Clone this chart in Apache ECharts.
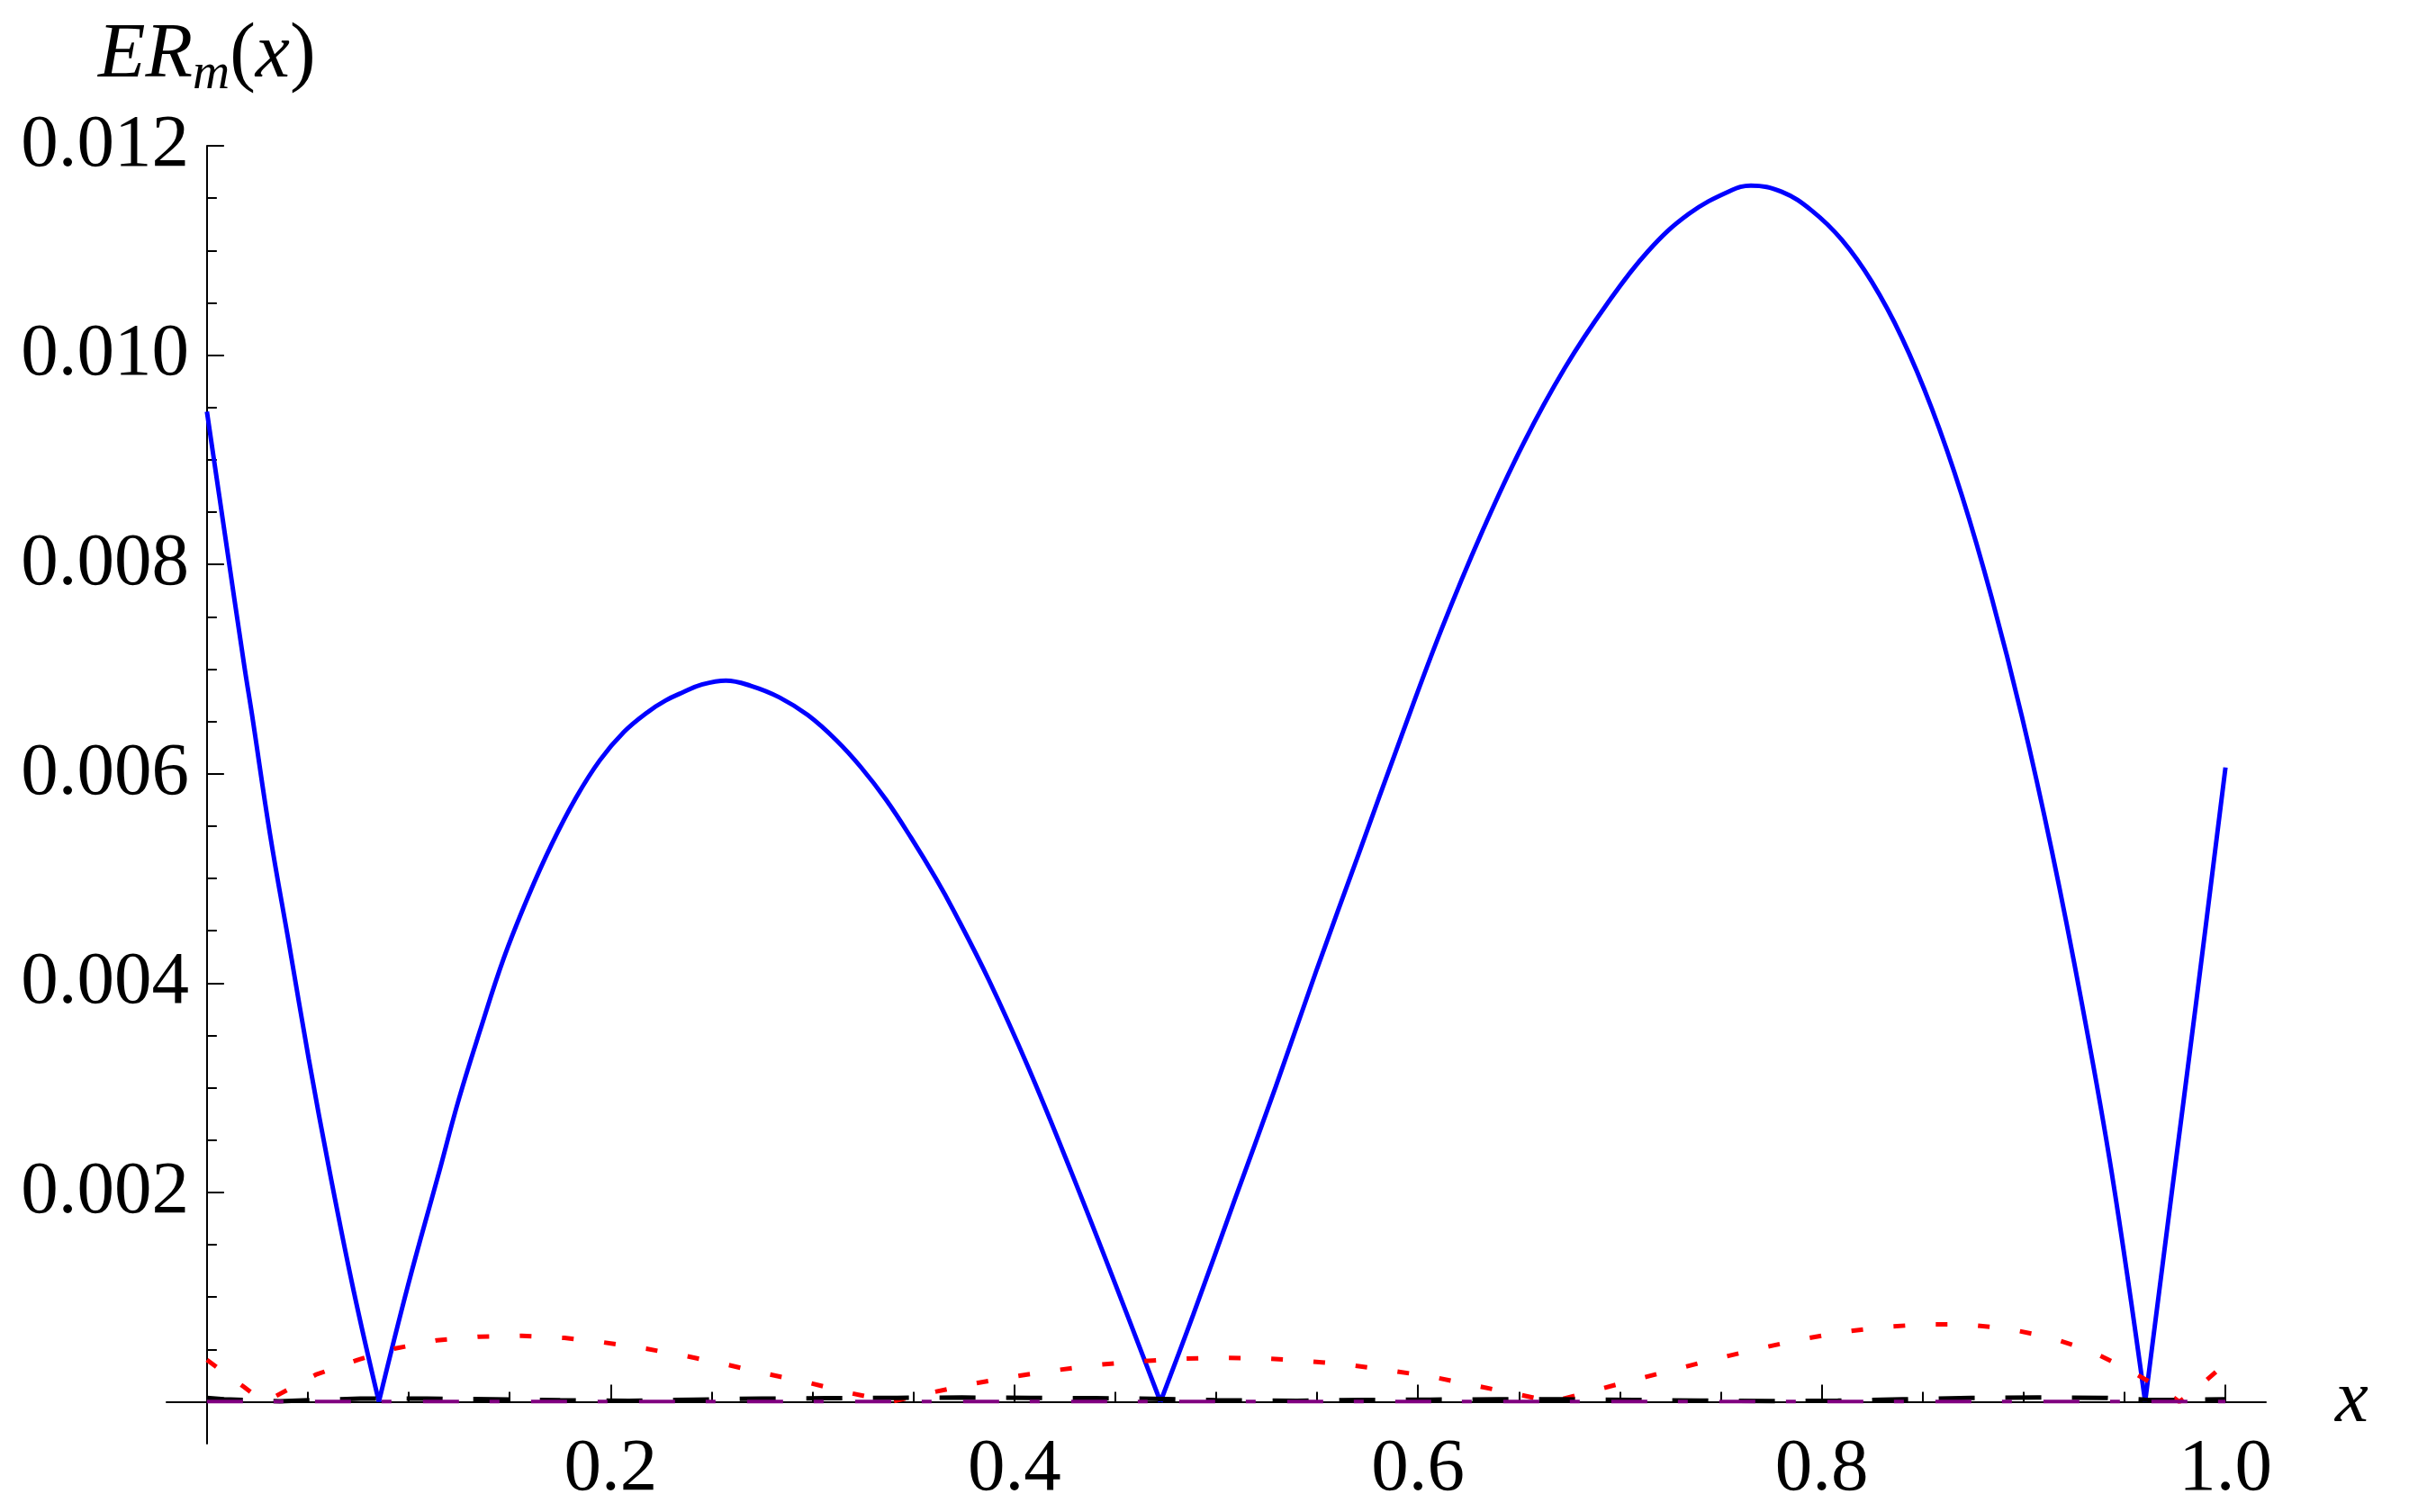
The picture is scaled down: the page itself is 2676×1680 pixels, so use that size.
<!DOCTYPE html>
<html>
<head>
<meta charset="utf-8">
<title>ER_m(x)</title>
<script src="https://cdn.jsdelivr.net/npm/echarts@6/dist/echarts.min.js"></script>
<style>
    html, body { margin: 0; padding: 0; background: #fff; }
    #chart { width: 2676px; height: 1680px; }
</style>
</head>
<body>
<div id="chart"></div>
<script>
    // values
    const blueX = [0, 0.0089, 0.0186, 0.0223, 0.0312, 0.0409, 0.0505, 0.0609, 0.0728, 0.0852,
        0.0996, 0.1144, 0.1248, 0.1352, 0.1471, 0.159, 0.1709, 0.1828, 0.1947, 0.2066, 0.2184, 0.2272,
        0.236, 0.2448, 0.2571, 0.2695, 0.2836, 0.2977, 0.3118, 0.3241, 0.3365, 0.3488, 0.3611, 0.37,
        0.3876, 0.407, 0.4281, 0.4493, 0.4724,
        0.4886, 0.509, 0.5295, 0.55, 0.5705, 0.591, 0.6114, 0.6319, 0.6523, 0.6728, 0.6933, 0.7138,
        0.7342, 0.7547, 0.7649, 0.7802, 0.7951, 0.81, 0.8248, 0.8396, 0.8545, 0.8694, 0.8842, 0.8991,
        0.914, 0.9288, 0.9437, 0.9602,
        0.9734, 0.9853, 1.0];
    const blueY = [0.00946, 0.00829, 0.00702, 0.00657, 0.00543, 0.00435, 0.00327, 0.00219, 0.00105, 0,
        0.00111, 0.00215, 0.00289, 0.00354, 0.00424, 0.00482, 0.00533, 0.00577, 0.00613, 0.0064, 0.00659, 0.0067,
        0.00678, 0.00685, 0.00689, 0.00684, 0.00673, 0.00656, 0.00632, 0.00606, 0.00575, 0.00539, 0.005, 0.00469,
        0.00402, 0.00319, 0.0022, 0.00116, 0,
        0.00083, 0.00192, 0.00301, 0.00414, 0.00523, 0.00632, 0.00737, 0.00832, 0.00916, 0.00988, 0.01048, 0.01099,
        0.01135, 0.01157, 0.01162, 0.01156, 0.01138, 0.0111, 0.0107, 0.01017, 0.00949, 0.00866, 0.00768, 0.00655,
        0.00526, 0.00381, 0.00218, 0,
        0.002, 0.00379, 0.00606];

    const redX = [0, 0.0182, 0.028, 0.0344, 0.0539, 0.0749, 0.0928, 0.1139, 0.1349, 0.156, 0.1771, 0.1965,
        0.2176, 0.237, 0.2581, 0.2775, 0.2986, 0.318, 0.3391, 0.3586, 0.3797, 0.4007, 0.4202, 0.4412, 0.4623,
        0.4818, 0.503, 0.5246, 0.5444, 0.5658, 0.5866, 0.607, 0.6268, 0.6473, 0.6664, 0.6878, 0.7076, 0.7274,
        0.7482, 0.768, 0.7884, 0.8089, 0.8297, 0.8504, 0.8709, 0.8917, 0.9121, 0.9319, 0.95, 0.9682, 0.9771,
        0.9853, 1.0];
    const redY = [0.0004, 0.000143, 0, 0.000057, 0.000258, 0.000401, 0.000507, 0.000587, 0.000622, 0.00063,
        0.00061, 0.000567, 0.000507, 0.000438, 0.000352, 0.000266, 0.00018, 0.000086, 0, 0.000086, 0.000172,
        0.000244, 0.0003, 0.000352, 0.000387, 0.00041, 0.00042, 0.000413, 0.00039, 0.000352, 0.000298, 0.000238,
        0.00016, 0.00008, 0, 0.000109, 0.000212, 0.000309, 0.000413, 0.000504, 0.00059, 0.000662, 0.000713,
        0.000739, 0.000739, 0.000699, 0.000619, 0.000496, 0.000327, 0.000126, 0, 0.000117, 0.000367];

    const blackX = [0, 0.0085, 0.036, 0.076, 0.109, 0.141, 0.175, 0.209, 0.241, 0.275, 0.307, 0.342, 0.374,
        0.408, 0.44, 0.475, 0.5, 0.54, 0.573, 0.606, 0.64, 0.673, 0.707, 0.74, 0.775, 0.808, 0.84, 0.874,
        0.907, 0.94, 0.96, 0.973, 1.0];
    const blackY = [0.000037, 0.000023, 0.000005, 0.00003, 0.00003, 0.000023, 0.000014, 0.000009, 0.00002,
        0.00003, 0.000034, 0.000037, 0.00004, 0.000037, 0.000034, 0.000026, 0.000014, 0.000009, 0.000017,
        0.00002, 0.000023, 0.000023, 0.000017, 0.000011, 0.000006, 0.00001, 0.000023, 0.000037, 0.00004,
        0.000037, 0.00002, 0.000017, 0.000023];

    const purpleX = [0, 0.25, 0.5, 0.75, 1.0];
    const purpleY = [0.000003, 0.000002, 0.000002, 0.000002, 0.000003];

    const xMajor = [0.2, 0.4, 0.6, 0.8, 1.0];
    const xMinor = [0.05, 0.1, 0.15, 0.25, 0.3, 0.35, 0.45, 0.5, 0.55, 0.65, 0.7, 0.75, 0.85, 0.9, 0.95];
    const yMajor = [0.002, 0.004, 0.006, 0.008, 0.010, 0.012];
    const yMinor = [0.0005, 0.001, 0.0015, 0.0025, 0.003, 0.0035, 0.0045, 0.005, 0.0055,
        0.0065, 0.007, 0.0075, 0.0085, 0.009, 0.0095, 0.0105, 0.011, 0.0115];

    function pairs(xs, ys) {
        return xs.map((x, i) => [x, ys[i]]);
    }

    // cut |f| at its zeros so every arch is smoothed on its own and the V's stay sharp
    function arches(xs, ys) {
        const out = [];
        let cur = [];
        xs.forEach((x, i) => {
            cur.push([x, ys[i]]);
            if (ys[i] === 0 && cur.length > 1) {
                out.push(cur);
                cur = [[x, ys[i]]];
            }
        });
        if (cur.length > 1) out.push(cur);
        return out;
    }

    const font = 'Liberation Serif';
    const chart = echarts.init(document.getElementById('chart'));

    // labels are laid out from the grid edge, not from the zero line, so margins are negative
    function xAxisOf(ticks, len, main) {
        return {
            type: 'value', min: -0.02, max: 1.02, position: 'bottom',
            axisLine: {show: main, onZero: true, onZeroAxisIndex: 0, lineStyle: {color: '#000', width: 2}},
            axisTick: {show: true, inside: true, length: len, customValues: ticks, lineStyle: {color: '#000', width: 2}},
            axisLabel: main ? {
                show: true, customValues: ticks, margin: -12,
                fontFamily: font, fontSize: 83, color: '#000',
                formatter: v => v.toFixed(1)
            } : {show: false},
            splitLine: {show: false},
            name: main ? 'x' : '', nameLocation: 'end', nameGap: 77,
            nameTextStyle: {fontFamily: font, fontStyle: 'italic', fontSize: 83, color: '#000', padding: [22, 0, 0, 0]}
        };
    }

    function yAxisOf(ticks, len, main) {
        return {
            type: 'value', min: -0.0004, max: 0.012, position: 'left',
            axisLine: {show: main, onZero: true, onZeroAxisIndex: 0, lineStyle: {color: '#000', width: 2}},
            axisTick: {show: true, inside: true, length: len, customValues: ticks, lineStyle: {color: '#000', width: 2}},
            axisLabel: main ? {
                show: true, customValues: ticks, margin: -25,
                fontFamily: font, fontSize: 83, color: '#000',
                formatter: v => v.toFixed(3)
            } : {show: false},
            splitLine: {show: false},
            name: main ? '{i|ER}{s|m}{n|(}{i|x}{n|)}' : '',
            nameLocation: 'end', nameGap: 50,
            nameTextStyle: {
                color: '#000',
                rich: {
                    i: {fontFamily: font, fontStyle: 'italic', fontSize: 86, lineHeight: 100, color: '#000'},
                    n: {fontFamily: font, fontSize: 86, lineHeight: 100, color: '#000'},
                    s: {fontFamily: font, fontStyle: 'italic', fontSize: 57, lineHeight: 57, verticalAlign: 'bottom', color: '#000'}
                }
            }
        };
    }

    const blueSeries = arches(blueX, blueY).map(seg => ({
        type: 'line', data: seg, showSymbol: false, smooth: 0.4, z: 2,
        lineStyle: {color: '#0000ff', width: 5}
    }));

    const option = {
        animation: false,
        backgroundColor: '#fff',
        grid: {left: 185, right: 159, top: 162, bottom: 76, containLabel: false, outerBoundsMode: 'none'},
        xAxis: [xAxisOf(xMajor, 19, true), xAxisOf(xMinor, 11, false)],
        yAxis: [yAxisOf(yMajor, 19, true), yAxisOf(yMinor, 11, false)],
        series: blueSeries.concat([
            {
                type: 'line', data: pairs(redX, redY), showSymbol: false, z: 3,
                lineStyle: {color: '#ff0000', width: 5, type: [13, 34]}
            },
            {
                type: 'line', data: pairs(blackX, blackY), showSymbol: false, z: 3,
                lineStyle: {color: '#000', width: 5, type: [40, 34]}
            },
            {
                type: 'line', data: pairs(purpleX, purpleY), showSymbol: false, z: 4,
                lineStyle: {color: '#800080', width: 4, type: [40, 34, 11, 35]}
            }
        ])
    };
    chart.setOption(option);
</script>
</body>
</html>
